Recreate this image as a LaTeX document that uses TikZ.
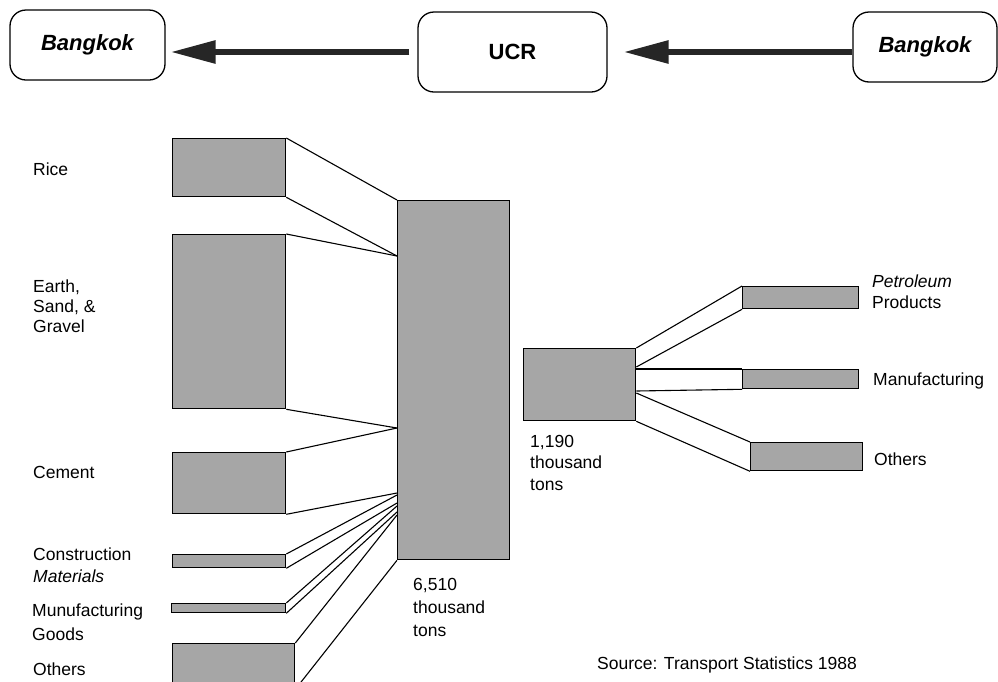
\documentclass[tikz,border=0pt]{standalone}
\usepackage{fontspec}
\setmainfont{Liberation Sans}
\usetikzlibrary{arrows.meta}
\begin{document}
\begin{tikzpicture}[x=1pt,y=-1pt,
  lbl/.style={anchor=base west, inner sep=0pt, font=\fontsize{17.5}{21}\selectfont},
  ilbl/.style={lbl, font=\itshape\fontsize{17.5}{21}\selectfont},
  topbox/.style={draw, line width=1.3pt, rounded corners=16pt, inner sep=0pt},
  bar/.style={draw, line width=1.3pt, fill=black!35, inner sep=0pt, anchor=north west},
  link/.style={line width=1.1pt},
  bigarrow/.style={line width=6pt, draw=black!85, -{Triangle[length=45pt,width=22pt,fill=black!85]}}
]
\useasboundingbox (0,0) rectangle (998,681);
\clip (0,0) rectangle (998,681);

% top row
\node[topbox, minimum width=155pt, minimum height=70pt, font=\bfseries\itshape\fontsize{22}{26}\selectfont] (bkl) at (87.5,45) {Bangkok};
\node[topbox, minimum width=189pt, minimum height=80pt, font=\bfseries\fontsize{22}{26}\selectfont] (ucr) at (512.5,52) {UCR};
\node[topbox, minimum width=144pt, minimum height=70pt, font=\bfseries\itshape\fontsize{22}{26}\selectfont] (bkr) at (925,47) {Bangkok};
\draw[bigarrow] ([xshift=-8pt]ucr.west) -- ([xshift=5pt]bkl.east |- ucr.west);
\draw[bigarrow] (bkr.west |- ucr.east) -- ([xshift=16pt]ucr.east);

% left bars
\node[bar, minimum width=113pt, minimum height=58pt] (rice) at (172,138) {};
\node[bar, minimum width=113pt, minimum height=174pt] (earth) at (172,234) {};
\node[bar, minimum width=113pt, minimum height=61pt] (cement) at (172,452) {};
\node[bar, minimum width=113pt, minimum height=13pt] (constr) at (172,554) {};
\node[bar, minimum width=114pt, minimum height=9pt] (manu) at (171,603) {};
\node[bar, minimum width=122pt, minimum height=45pt] (oth) at (172,643) {};
\node[bar, minimum width=112pt, minimum height=359pt] (big) at (397,200) {};

\draw[link] (rice.north east) -- (big.north west);
\draw[link] (rice.south east) -- (big.west |- 0,256);
\draw[link] (earth.north east) -- (big.west |- 0,256);
\draw[link] (earth.south east) -- (big.west |- 0,428);
\draw[link] (cement.north east) -- (big.west |- 0,428);
\draw[link] (cement.south east) -- (big.west |- 0,493);
\draw[link] (constr.north east) -- (big.west |- 0,495);
\draw[link] (constr.south east) -- (big.west |- 0,503);
\draw[link] (manu.north east) -- (big.west |- 0,506);
\draw[link] (manu.south east) -- (big.west |- 0,512);
\draw[link] (oth.north east) -- (big.west |- 0,515);
\draw[link] (oth.south east) -- (big.south west);

% right bars
\node[bar, minimum width=112pt, minimum height=72pt] (mid) at (523,348) {};
\node[bar, minimum width=116pt, minimum height=22pt] (pet) at (742,286) {};
\node[bar, minimum width=116pt, minimum height=19pt] (man) at (742,369) {};
\node[bar, minimum width=112pt, minimum height=28pt] (roth) at (750,442) {};

\draw[link] (mid.north east) -- (pet.north west);
\draw[link] (mid.east |- 0,367) -- (pet.south west);
\draw[link] (mid.east |- 0,369) -- (man.north west);
\draw[link] (mid.east |- 0,391) -- (man.south west);
\draw[link] (mid.east |- 0,393) -- (roth.north west);
\draw[link] (mid.south east) -- (roth.south west);

% left labels
\node[lbl] (l1) at (33,175) {Rice};
\node[lbl] (l2a) at (33,292) {Earth,};
\node[lbl] (l2b) at (33,312) {Sand, \&};
\node[lbl] (l2c) at (33,332) {Gravel};
\node[lbl] (l3) at (33,478) {Cement};
\node[lbl] (l4a) at (33,560) {Construction};
\node[ilbl] (l4b) at (33,582) {Materials};
\node[lbl] (l5a) at (32,616) {Munufacturing};
\node[lbl] (l5b) at (32,640) {Goods};
\node[lbl] (l6) at (33,675) {Others};

% totals
\node[lbl] (t1a) at (413,590) {6,510};
\node[lbl] (t1b) at (413,613) {thousand};
\node[lbl] (t1c) at (413,636) {tons};
\node[lbl] (t2a) at (530,447) {1,190};
\node[lbl] (t2b) at (530,468) {thousand};
\node[lbl] (t2c) at (530,490) {tons};

% right labels
\node[ilbl] (r1a) at (872,287) {Petroleum};
\node[lbl] (r1b) at (872,308) {Products};
\node[lbl] (r2) at (873,385) {Manufacturing};
\node[lbl] (r3) at (874,465) {Others};

\node[lbl] (src) at (597,669) {Source: Transport Statistics 1988};
\end{tikzpicture}
\end{document}
